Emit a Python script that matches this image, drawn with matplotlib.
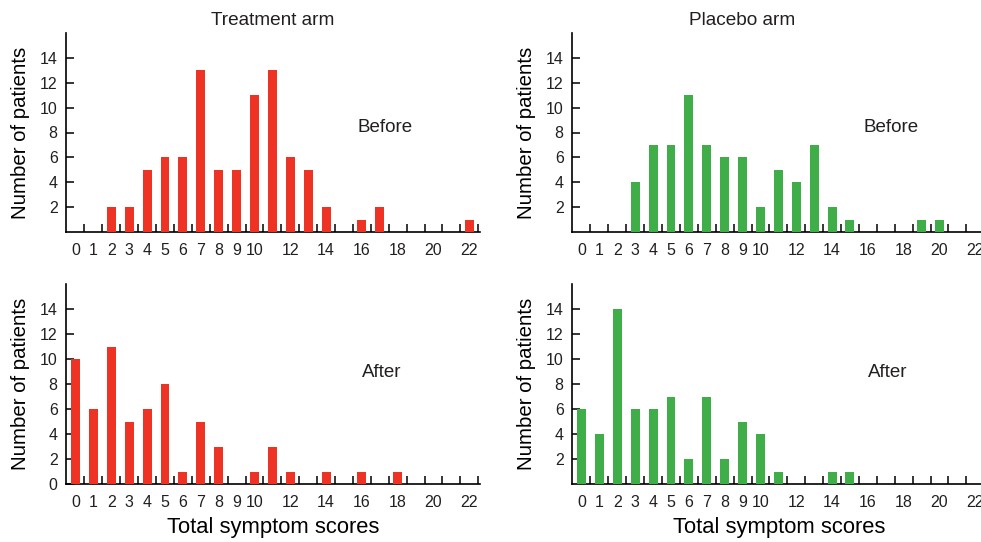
import numpy as np
import matplotlib.pyplot as plt

# ----------- data -----------
scores = np.arange(0, 23)
treat_before = [0, 0, 2, 2, 5, 6, 6, 13, 5, 5, 11, 13, 6, 5, 2, 0, 1, 2, 0, 0, 0, 0, 1]
placebo_before = [0, 0, 0, 4, 7, 7, 11, 7, 6, 6, 2, 5, 4, 7, 2, 1, 0, 0, 0, 1, 1, 0, 0]
treat_after = [10, 6, 11, 5, 6, 8, 1, 5, 3, 0, 1, 3, 1, 0, 1, 0, 1, 0, 1, 0, 0, 0, 0]
placebo_after = [6, 4, 14, 6, 6, 7, 2, 7, 2, 5, 4, 1, 0, 0, 1, 1, 0, 0, 0, 0, 0, 0, 0]

xtick_pos = list(range(0, 11)) + list(range(12, 23, 2))
red = "#ee3224"
green = "#3fae49"
txt = "#231f20"

plt.rcParams["font.family"] = ["Liberation Sans", "DejaVu Sans"]
plt.rcParams["text.color"] = txt

fig = plt.figure(figsize=(9.81, 5.42), dpi=100)

W = 414 / 981
panels = [
    # left, bottom, height, data, colour, label, yticks, title
    (66 / 981, 1 - 232 / 542, 199 / 542, treat_before, red, "Before", range(2, 15, 2), ("Treatment arm", 11.0)),
    (572 / 981, 1 - 232 / 542, 199 / 542, placebo_before, green, "Before", range(2, 15, 2), ("Placebo arm", 9.0)),
    (66 / 981, 1 - 484 / 542, 200 / 542, treat_after, red, "After", range(0, 15, 2), None),
    (572 / 981, 1 - 484 / 542, 200 / 542, placebo_after, green, "After", range(2, 15, 2), None),
]

for i, (l, b, h, vals, col, lab, yt, title) in enumerate(panels):
    ax = fig.add_axes([l, b, W, h])
    ax.bar(scores, vals, width=0.5, color=col, zorder=3)
    ax.set_xlim(-0.53, 22.6)
    ax.set_ylim(0, 16)
    ax.spines[["top", "right"]].set_visible(False)
    ax.spines[["left", "bottom"]].set_linewidth(1.2)
    ax.set_yticks(list(yt))
    ax.set_xticks(xtick_pos)
    ax.set_xticks(np.arange(0.5, 23, 1), minor=True)
    ax.tick_params(axis="x", which="major", length=0, pad=8, labelsize=11.5, labelcolor=txt)
    ax.tick_params(axis="x", which="minor", direction="in", length=5.5, width=1.1)
    ax.tick_params(axis="y", direction="in", length=6, width=1.1, pad=6,
                   labelsize=11.5, labelcolor=txt)
    ax.set_ylabel("Number of patients", fontsize=14.7, labelpad=7)
    ax.text(17.3 if lab == "Before" else 17.1, 8.4 if lab == "Before" else 8.9, lab,
            fontsize=13.5, ha="center", va="center")
    if title:
        ax.text(title[1], 1.065, title[0], transform=ax.get_xaxis_transform(),
                fontsize=13.7, ha="center", va="center")
    if i >= 2:
        ax.set_xlabel("Total symptom scores", fontsize=15.8, labelpad=5)

fig.savefig("out.png", dpi=100)
